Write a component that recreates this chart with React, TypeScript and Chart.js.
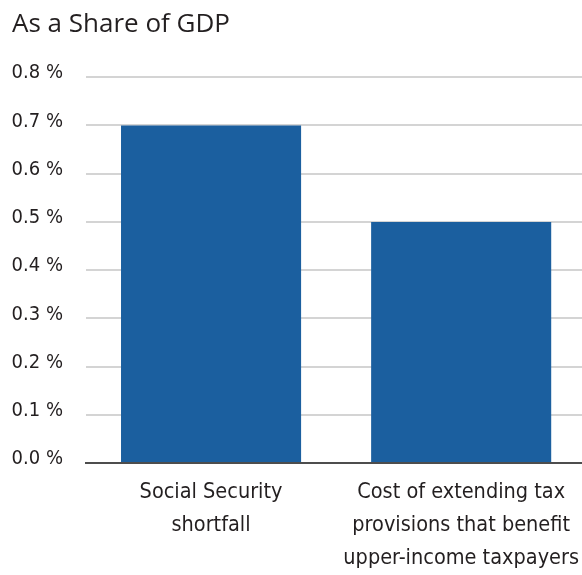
import React, { useEffect, useRef } from "react";
import { Chart, registerables } from "chart.js";

Chart.register(...registerables);

const categories: string[][] = [
  ["Social Security", "shortfall"],
  ["Cost of extending tax", "provisions that benefit", "upper-income taxpayers"],
];
const values: number[] = [0.7, 0.5];
const yMin = 0;
const yMax = 0.8;
const yStep = 0.1;
const titleText = "As a Share of GDP";

const BAR_COLOR = "#1b5f9f";
const TEXT_COLOR = "#231f20";
const NARROW = "'Liberation Sans Narrow', 'DejaVu Sans Condensed', sans-serif";

export default function App() {
  const ref = useRef<HTMLCanvasElement>(null);
  useEffect(() => {
    const canvas = ref.current!;
    const chart = new Chart(canvas, {
      type: "bar",
      data: {
        labels: categories,
        datasets: [
          {
            data: values,
            backgroundColor: BAR_COLOR,
            borderWidth: 0,
            categoryPercentage: 1,
            barPercentage: 0.72,
          },
        ],
      },
      options: {
        responsive: false,
        animation: false,
        layout: { padding: { left: 12, right: 0, top: 0, bottom: 0 } },
        plugins: {
          legend: { display: false },
          tooltip: { enabled: false },
          title: {
            display: true,
            text: titleText,
            align: "start",
            color: TEXT_COLOR,
            font: { family: "'Open Sans', sans-serif", size: 26, weight: "normal", lineHeight: 1.2 },
            padding: { top: 9, bottom: 37 },
          },
        },
        scales: {
          x: {
            grid: { display: false, drawTicks: false },
            border: { display: true, color: "#4d4d4d", width: 2 },
            ticks: {
              color: TEXT_COLOR,
              font: { family: NARROW, size: 21.5, lineHeight: 1.53 },
              padding: 13,
              maxRotation: 0,
              autoSkip: false,
            },
            afterFit: (s: any) => {
              s.height = 112;
            },
          },
          y: {
            min: yMin,
            max: yMax,
            grid: { color: "#d4d4d4", lineWidth: 2, drawTicks: false },
            border: { display: false },
            ticks: {
              stepSize: yStep,
              color: TEXT_COLOR,
              padding: 23,
              labelOffset: -4,
              font: { family: NARROW, size: 20 },
              callback: (v: any) => Number(v).toFixed(1) + " %",
            },
            afterFit: (s: any) => {
              s.width = 74;
            },
          },
        },
      },
    });
    return () => chart.destroy();
  }, []);
  return (
    <div style={{ position: "absolute", left: 0, top: 0, width: 582, height: 575, overflow: "hidden", background: "#fff" }}>
      <canvas ref={ref} width={592} height={575} style={{ display: "block", width: 592, height: 575 }} />
    </div>
  );
}
